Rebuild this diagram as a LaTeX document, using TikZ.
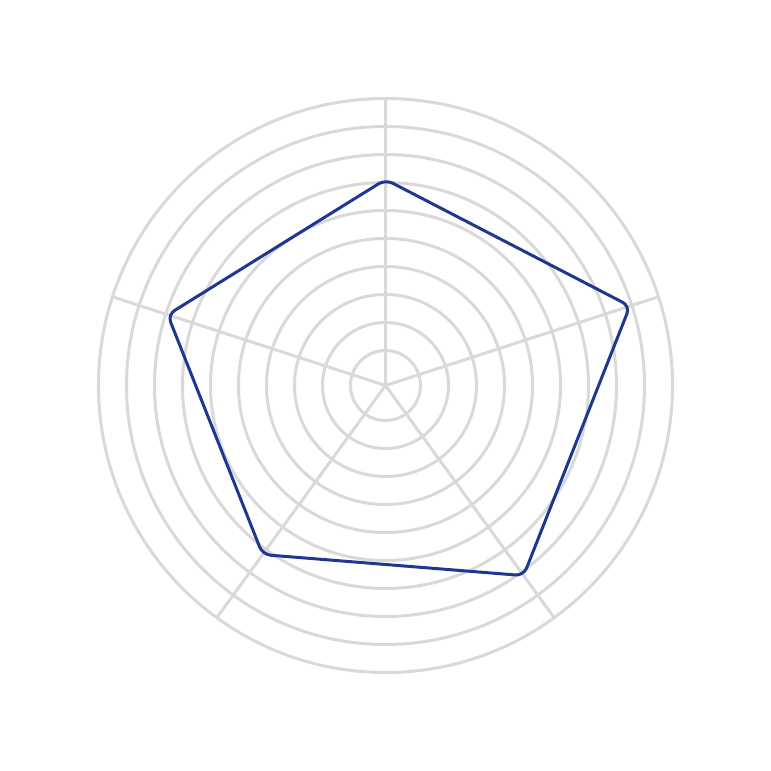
\documentclass[tikz,border=0pt]{standalone}
\definecolor{gridgray}{RGB}{217,217,217}
\definecolor{seriesblue}{RGB}{30,56,145}
\tikzset{
  gridline/.style={draw=gridgray, line width=3pt},
  series/.style={draw=seriesblue, line width=3pt, rounded corners=8pt, line join=round}
}
\begin{document}
\begin{tikzpicture}[x=1pt,y=1pt]
\useasboundingbox (-385.5,-385.5) rectangle (385.5,385.5);
\coordinate (c) at (0,0);
% concentric rings
\foreach \k in {0,...,9} {
  \draw[gridline] (c) circle ({35+28*\k});
}
% spokes
\foreach \a in {90,18,-54,-126,162} {
  \draw[gridline] (c) -- (\a:287);
}
% series polygon
\coordinate (v1) at (90:206);
\coordinate (v2) at (18:257);
\coordinate (v3) at (-54:235);
\coordinate (v4) at (-126:209);
\coordinate (v5) at (162:229);
\draw[series] (v1) -- (v2) -- (v3) -- (v4) -- (v5) -- cycle;
\end{tikzpicture}
\end{document}
